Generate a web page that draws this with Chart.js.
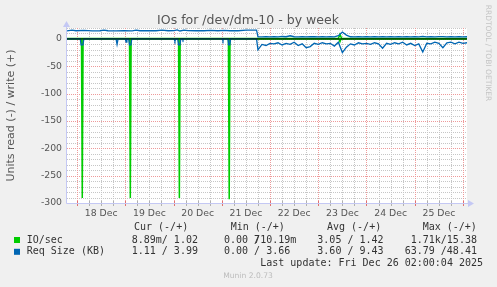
<!DOCTYPE html>
<html><head><meta charset="utf-8">
<script src="https://cdn.jsdelivr.net/npm/chart.js@4"></script>
<style>html,body{margin:0;padding:0;background:#f0f0f0;}canvas{display:block;}</style>
</head><body>
<canvas id="c" width="497" height="287"></canvas>
<script>
// ---- time axis: hours since 18 Dec 00:00 ----
const xDayLabels = ['18 Dec','19 Dec','20 Dec','21 Dec','22 Dec','23 Dec','24 Dec','25 Dec'];
const xLabelHours = [12,36,60,84,108,132,156,180];
const yMajorTicks = [0,-50,-100,-150,-200,-250,-300];

// IO/sec (green): read plotted negative, write positive
const ioReadTimes  = [-5, 2.2, 2.6, 3.0, 26.1, 26.5, 26.9, 50.5, 50.9, 51.3, 75.3, 75.7, 76.1, 130.3, 130.8, 131.3, 194];
const ioReadValues = [0, 0, -291, 0, 0, -291, 0, 0, -291, 0, 0, -293, 0, 0, -5, 0, 0];
const ioWriteTimes  = [-5, 130.0, 130.8, 131.6, 194];
const ioWriteValues = [1.0, 1.0, 8.5, 1.0, 1.02];

// Req Size (KB) (blue): before the change around 21 Dec 17:00
const reqReadEarlyTimes  = [-5,1.6,2.0,2.9,3.4,19.4,19.9,20.4,24.0,24.4,24.8,25.7,26.1,26.8,27.2,48.3,48.7,49.1,50.1,50.5,51.2,51.6,52.4,52.7,53.0,72.3,72.6,72.9,75.1,75.4,76.0,76.4,89.3];
const reqReadEarlyValues = [0,0,-11,-11,0,0,-10,0,0,-6,0,0,-11,-11,0,0,-4,0,0,-11,-11,0,0,-2,0,0,-3,0,0,-11,-11,0,0];
const reqWriteEarlyTimes  = [-5,-2.5,-0.5,3.5,7.5,11.4,13.4,15.4,19.4,23.4,27.4,29.4,31.3,35.3,39.3,42.3,45.3,48.3,49.8,51.2,53.2,55.2,59.2,63.2,66.2,70.1,73.1,76.1,80.1,84.1,88.1,89.3];
const reqWriteEarlyValues = [14.8,16.0,15.0,15.5,14.8,15.0,16.2,15.0,14.8,15.0,14.9,16.0,15.0,15.0,15.0,16.0,15.0,15.2,16.5,14.5,16.2,15.2,15.0,15.0,15.6,15.0,15.8,15.0,15.0,16.0,16.2,16.0];
// after the change (2-hour samples)
const lateTimes = [90,92,94,96,98,100,102,104,106,108,110,112,114,116,118,120,122,124,126,128,130,132,134,136,138,140,142,144,146,148,150,152,154,156,158,160,162,164,166,168,170,172,174,176,178,180,182,184,186,188,190,192,194];
const reqReadLateValues = [-20,-10,-12,-8,-9,-7,-11,-8,-10,-6,-12,-9,-16,-14,-8,-10,-7,-9,-8,-13,-6,-25,-15,-9,-11,-7,-9,-8,-10,-7,-9,-17,-8,-10,-7,-9,-6,-11,-8,-12,-9,-24,-8,-9,-6,-8,-16,-7,-6,-9,-6,-8,-7];
const reqWriteLateValues = [4.0,3.8,4.2,3.7,4.0,3.8,4.5,4.0,5.8,4.0,3.8,4.2,3.7,4.0,4.3,3.8,4.0,3.7,4.1,3.9,6.0,12.5,7.0,4.0,3.8,4.2,3.9,4.0,3.7,4.1,3.8,4.4,3.9,4.0,3.7,4.2,3.9,4.0,3.8,4.1,3.9,4.6,3.8,4.0,3.7,4.1,4.3,3.9,4.0,3.8,4.1,3.9,3.99];

// legend
const legendHeaders = ['Cur (-/+)','Min (-/+)','Avg (-/+)','Max (-/+)'];
const seriesNames = ['IO/sec','Req Size (KB)'];
const ioStats  = [' 8.89m/ 1.02',' 0.00 /710.19m',' 3.05 / 1.42',' 1.71k/15.38'];
const reqStats = [' 1.11 / 3.99',' 0.00 / 3.66',' 3.60 / 9.43','63.79 /48.41'];
const lastUpdate = 'Last update: Fri Dec 26 02:00:04 2025';

const GREEN = '#00cc00', BLUE = '#0066b3';
const pts = (t, v) => t.map((x, i) => ({x, y: v[i]}));

const xGrid = []; for (let h = 0; h <= 192; h += 6) xGrid.push(h);
const yGrid = []; for (let v = -300; v <= 20; v += 10) yGrid.push(v);

const MAJOR = '#ee9a9a', MINOR = '#c6c6c6';

const munin = {
  id: 'munin',
  beforeDraw(chart) {
    const {ctx, chartArea: a} = chart;
    ctx.save();
    ctx.fillStyle = '#f0f0f0'; ctx.fillRect(0, 0, chart.width, chart.height);
    ctx.fillStyle = '#ffffff'; ctx.fillRect(a.left, a.top, a.right - a.left, a.bottom - a.top);
    ctx.restore();
  },
  beforeDatasetsDraw(chart) {
    const {ctx, chartArea: a} = chart;
    const sx = chart.scales.x, sy = chart.scales.y;
    const L = Math.round(a.left), R = Math.round(a.right), T = Math.round(a.top), B = Math.round(a.bottom);
    ctx.save();
    // dotted grid (minor first, then major)
    const drawH = (v, col) => { const y = Math.round(sy.getPixelForValue(v)); ctx.fillStyle = col; for (let x = L; x < R; x += 2) ctx.fillRect(x, y, 1, 1); };
    const drawV = (v, col) => { const x = Math.round(sx.getPixelForValue(v)); ctx.fillStyle = col; for (let y = T; y < B; y += 2) ctx.fillRect(x, y, 1, 1); };
    yGrid.forEach(v => { if (v % 50 !== 0) drawH(v, MINOR); });
    xGrid.forEach(v => { if (v % 24 !== 0) drawV(v, MINOR); });
    yGrid.forEach(v => { if (v % 50 === 0) drawH(v, MAJOR); });
    xGrid.forEach(v => { if (v % 24 === 0) drawV(v, MAJOR); });
    // tick marks on x axis
    xGrid.forEach(v => { const x = Math.round(sx.getPixelForValue(v)); ctx.fillStyle = v % 24 === 0 ? '#e07070' : '#b0b0b0'; ctx.fillRect(x, B - 2, 1, 5); });
    // axis lines and arrows
    ctx.strokeStyle = '#c4c8f4'; ctx.fillStyle = '#c4c8f4'; ctx.lineWidth = 1;
    const lx = L - 0.5, by = B + 0.5;
    ctx.beginPath(); ctx.moveTo(lx, by); ctx.lineTo(lx, T - 1); ctx.stroke();
    ctx.beginPath(); ctx.moveTo(lx - 3.5, T - 1); ctx.lineTo(lx + 3.5, T - 1); ctx.lineTo(lx, T - 7); ctx.closePath(); ctx.fill();
    ctx.beginPath(); ctx.moveTo(lx, by); ctx.lineTo(R + 1, by); ctx.stroke();
    ctx.beginPath(); ctx.moveTo(R + 1, by - 3.5); ctx.lineTo(R + 1, by + 3.5); ctx.lineTo(R + 7, by); ctx.closePath(); ctx.fill();
    ctx.restore();
  },
  afterDraw(chart) {
    const ctx = chart.ctx, a = chart.chartArea;
    ctx.save();
    // title
    ctx.fillStyle = '#555'; ctx.textAlign = 'center'; ctx.textBaseline = 'alphabetic';
    ctx.font = '12.5px "DejaVu Sans"';
    ctx.fillText('IOs for /dev/dm-10 - by week', 248, 23.5);
    // y axis title
    ctx.save(); ctx.translate(11, (a.top + a.bottom) / 2); ctx.rotate(-Math.PI / 2);
    ctx.font = '11px "DejaVu Sans"'; ctx.textBaseline = 'middle';
    ctx.fillText('Units read (-) / write (+)', 0, 0); ctx.restore();
    // watermark
    ctx.save(); ctx.translate(488, 53); ctx.rotate(Math.PI / 2);
    ctx.font = '7.5px "DejaVu Sans"'; ctx.fillStyle = '#c4c4c4'; ctx.textBaseline = 'middle';
    ctx.fillText('RRDTOOL / TOBI OETIKER', 0, 0); ctx.restore();
    // legend
    const cw = 6.02;
    ctx.font = '10px "DejaVu Sans Mono"'; ctx.fillStyle = '#333'; ctx.textAlign = 'left'; ctx.textBaseline = 'middle';
    const hx = [134, 230.7, 327, 422.7];
    legendHeaders.forEach((h, i) => ctx.fillText(h, hx[i], 227.5));
    const colStart = [125.7, 218, 311.3, 404.7];
    const drawMono = (s, x0, y) => {
      const cells = s.split('').map(c => [c]);
      if (s.length > 12) { const j = s.indexOf('/'); cells.splice(j, 2, [s[j], s[j + 1]]); }
      cells.forEach((chs, k) => chs.forEach(ch => ctx.fillText(ch, x0 + k * cw, y)));
    };
    const rows = [[GREEN, seriesNames[0], ioStats, 240], [BLUE, seriesNames[1], reqStats, 251.8]];
    rows.forEach(([col, name, stats, y]) => {
      ctx.fillStyle = col; ctx.fillRect(14, y - 3, 6, 6);
      ctx.fillStyle = '#333';
      ctx.fillText(name, 26.7, y);
      stats.forEach((s, i) => drawMono(s, colStart[i], y));
    });
    ctx.textAlign = 'right';
    ctx.fillText(lastUpdate, 483, 263.5);
    ctx.textAlign = 'center'; ctx.fillStyle = '#bcbcbc'; ctx.font = '7.6px "DejaVu Sans"';
    ctx.fillText('Munin 2.0.73', 248, 276);
    ctx.restore();
  }
};

new Chart(document.getElementById('c'), {
  type: 'line',
  data: {
    datasets: [
      {label: 'zero', data: pts([-5, 194], [0, 0]), borderColor: '#000', borderWidth: 1, order: 0},
      {label: 'Req Size (KB) write', data: pts(reqWriteEarlyTimes.concat(lateTimes), reqWriteEarlyValues.concat(reqWriteLateValues)), borderColor: BLUE, borderWidth: 1.3, order: 1},
      {label: 'Req Size (KB) read', data: pts(reqReadEarlyTimes.concat(lateTimes), reqReadEarlyValues.concat(reqReadLateValues)), borderColor: BLUE, borderWidth: 1.3, order: 1},
      {label: 'IO/sec write', data: pts(ioWriteTimes, ioWriteValues), borderColor: GREEN, borderWidth: 1.5, order: 2},
      {label: 'IO/sec read', data: pts(ioReadTimes, ioReadValues), borderColor: GREEN, borderWidth: 1.5, order: 2}
    ]
  },
  options: {
    responsive: false, animation: false, devicePixelRatio: 1,
    layout: {padding: {left: 0, right: 30, top: 28, bottom: 64}},
    plugins: {legend: {display: false}, tooltip: {enabled: false}, title: {display: false}},
    elements: {point: {radius: 0}, line: {tension: 0, fill: false}},
    scales: {
      x: {
        type: 'linear', min: -5, max: 194,
        afterBuildTicks: s => { s.ticks = xGrid.map(v => ({value: v})); },
        afterFit: s => { s.height = 20; },
        ticks: {autoSkip: false, maxRotation: 0, minRotation: 0, padding: 2, color: '#555', font: {family: 'DejaVu Sans', size: 9.3},
          callback: v => { const i = xLabelHours.indexOf(v); return i >= 0 ? xDayLabels[i] : ''; }},
        grid: {display: true, drawOnChartArea: false, drawTicks: true, tickLength: 3, color: 'rgba(0,0,0,0)'},
        border: {display: false}
      },
      y: {
        min: -300, max: 20,
        afterBuildTicks: s => { s.ticks = yGrid.map(v => ({value: v})); },
        afterFit: s => { s.width = 67; },
        ticks: {autoSkip: false, padding: 5, color: '#555', font: {family: 'DejaVu Sans', size: 9.3},
          callback: v => yMajorTicks.includes(v) ? String(v) : ''},
        grid: {display: true, drawOnChartArea: false, drawTicks: false, color: 'rgba(0,0,0,0)'},
        border: {display: false}
      }
    }
  },
  plugins: [munin]
});
</script>
</body></html>
